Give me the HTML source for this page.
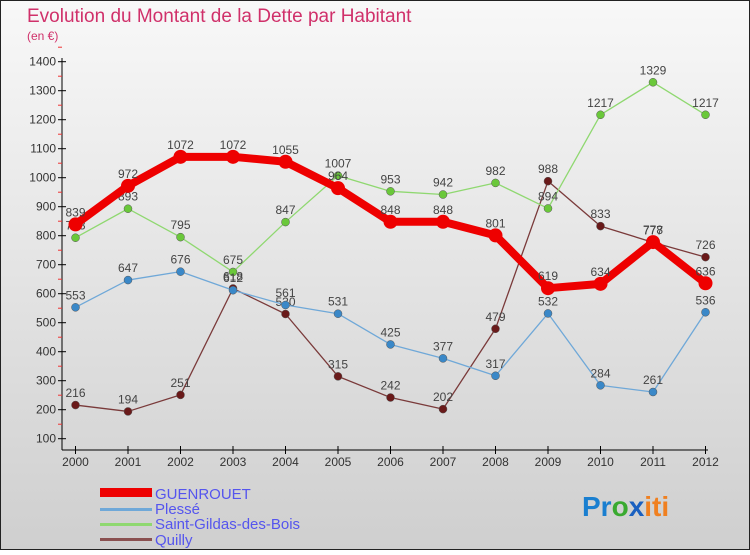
<!DOCTYPE html>
<html><head><meta charset="utf-8"><style>
body{margin:0;width:750px;height:550px;overflow:hidden;font-family:"Liberation Sans",sans-serif}
</style></head><body>
<svg id="c" width="750" height="550" xmlns="http://www.w3.org/2000/svg">
<defs><linearGradient id="bg" x1="0" y1="0" x2="0" y2="1"><stop offset="0" stop-color="#f8f8f8"/><stop offset="1" stop-color="#cfcfcf"/></linearGradient></defs>
<rect x="0.5" y="0.5" width="749" height="549" fill="url(#bg)" stroke="#222"/>
<text x="27" y="22" font-size="19" fill="#d0306a">Evolution du Montant de la Dette par Habitant</text>
<text x="27" y="40" font-size="12" fill="#d0306a">(en €)</text>
<g id="axes"></g><g id="series"></g>
<g>
<rect x="100" y="488" width="52" height="9" fill="#e00"/>
<text x="155" y="499" font-size="15" fill="#5555ee">GUENROUET</text>
<rect x="100" y="508" width="52" height="3" fill="#6fa8d8"/>
<text x="155" y="514" font-size="15" fill="#5555ee">Plessé</text>
<rect x="100" y="523" width="52" height="3" fill="#8fd870"/>
<text x="155" y="529" font-size="15" fill="#5555ee">Saint-Gildas-des-Bois</text>
<rect x="100" y="538" width="52" height="3" fill="#8a5050"/>
<text x="155" y="545" font-size="15" fill="#5555ee">Quilly</text>
</g>
<text x="582" y="516" font-size="28" font-weight="bold"><tspan fill="#1a7fd0">Pr</tspan><tspan fill="#3aaa30">o</tspan><tspan fill="#1a60c0">x</tspan><tspan fill="#f08020">iti</tspan></text>
</svg>
<script>
const years=[2000,2001,2002,2003,2004,2005,2006,2007,2008,2009,2010,2011,2012];
const yTicks=[100,200,300,400,500,600,700,800,900,1000,1100,1200,1300,1400];
const guenrouet=[839,972,1072,1072,1055,964,848,848,801,619,634,778,636];
const plesse=[553,647,676,612,561,531,425,377,317,532,284,261,536];
const saintGildas=[793,893,795,675,847,1007,953,942,982,894,1217,1329,1217];
const quilly=[216,194,251,618,530,315,242,202,479,988,833,777,726];
const NS="http://www.w3.org/2000/svg";
const x=i=>75.5+i*(705.5-75.5)/(years.length-1);
const y=v=>438.7-(v-100)*0.29;
function mk(t,a,p){const e=document.createElementNS(NS,t);for(const k in a)e.setAttribute(k,a[k]);p.appendChild(e);return e;}
const ax=document.getElementById('axes');
let l=mk('line',{x1:62,y1:58,x2:62,y2:450,stroke:'#000'},ax);


l=mk('line',{x1:62,y1:450,x2:708,y2:450,stroke:'#000'},ax);


yTicks.forEach(v=>{
 mk('line',{x1:58,y1:y(v),x2:66,y2:y(v),stroke:'#000'},ax);
 mk('line',{x1:58,y1:y(v+50),x2:62,y2:y(v+50),stroke:'#e33'},ax);
 const t=mk('text',{x:56,y:y(v)+4,'font-size':12,'text-anchor':'end',fill:'#333'},ax);t.textContent=v;
 
 
});
years.forEach((yr,i)=>{
 mk('line',{x1:x(i),y1:446,x2:x(i),y2:454,stroke:'#000'},ax);
 const t=mk('text',{x:x(i),y:466,'font-size':12,'text-anchor':'middle',fill:'#333'},ax);t.textContent=yr;
 
 
});
const sg=document.getElementById('series');
function series(d,col,dot,w,r,name){
 const g=mk('g',{},sg);
 
 
 mk('polyline',{points:d.map((v,i)=>x(i)+','+y(v)).join(' '),fill:'none',stroke:col,'stroke-width':w,'stroke-linejoin':'round'},g);
 d.forEach((v,i)=>{
  const c=mk('circle',{cx:x(i),cy:y(v),r:r,fill:dot,stroke:w>3?'none':'#555','stroke-width':0.5},g);
  
  
  const t=mk('text',{x:x(i),y:y(v)-8,'font-size':12,'text-anchor':'middle',fill:'#444'},g);t.textContent=v;
  
  
 });
}
series(quilly,'#7a3a3a','#6a1a1a',1.3,4,'quilly');
series(saintGildas,'#8fd870','#6ac83a',1.3,4,'saint-gildas');
series(plesse,'#6fa8d8','#3a88c8',1.3,4,'plesse');
series(guenrouet,'#ee0000','#ee0000',8,7,'guenrouet');
</script>
</body></html>
